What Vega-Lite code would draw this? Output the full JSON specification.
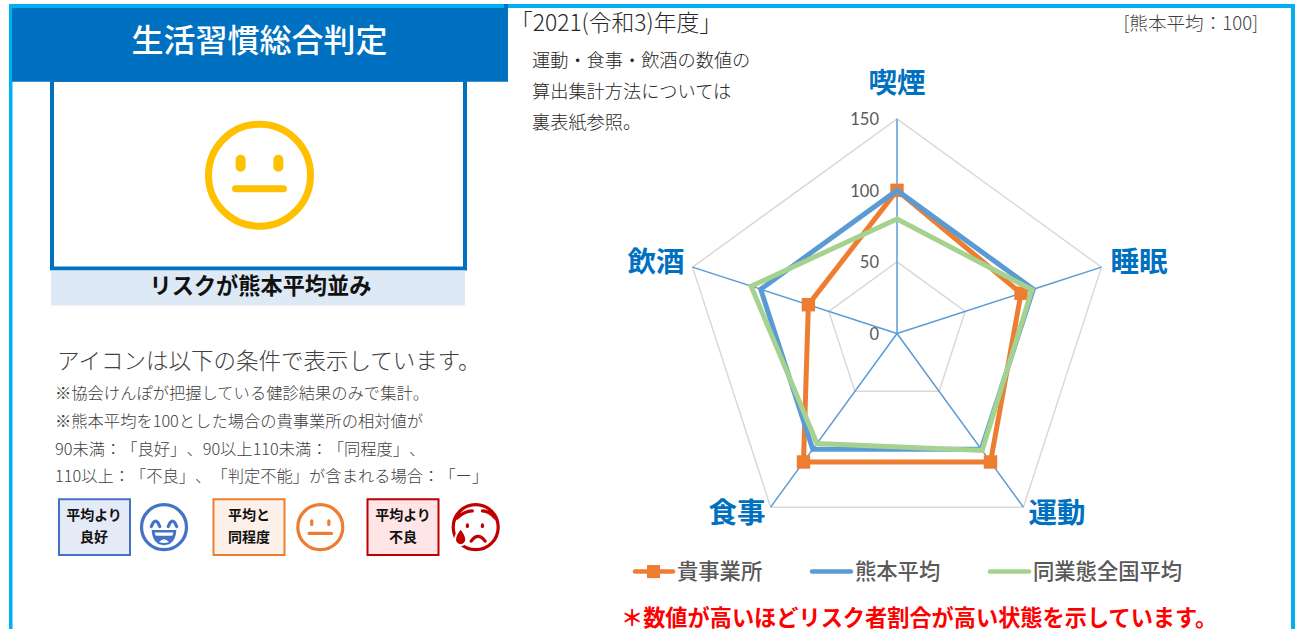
{
"$schema":"https://vega.github.io/schema/vega-lite/v6.json",
"autosize":{"type":"fit","contains":"padding"},
"width":1295,"height":630,"padding":0,"background":"#ffffff",
"config":{"view":{"stroke":null},"axis":{"disable":true},"text":{"font":"Noto Sans CJK JP","baseline":"middle"}},
"datasets":{
"scores":[
{"series":"貴事業所","axis":"喫煙","value":100},{"series":"貴事業所","axis":"睡眠","value":91},{"series":"貴事業所","axis":"運動","value":111},{"series":"貴事業所","axis":"食事","value":111},{"series":"貴事業所","axis":"飲酒","value":65},
{"series":"熊本平均","axis":"喫煙","value":100},{"series":"熊本平均","axis":"睡眠","value":100},{"series":"熊本平均","axis":"運動","value":100},{"series":"熊本平均","axis":"食事","value":100},{"series":"熊本平均","axis":"飲酒","value":100},
{"series":"同業態全国平均","axis":"喫煙","value":80},{"series":"同業態全国平均","axis":"睡眠","value":99},{"series":"同業態全国平均","axis":"運動","value":101},{"series":"同業態全国平均","axis":"食事","value":95},{"series":"同業態全国平均","axis":"飲酒","value":107}
],
"grid":[
{"axis":"喫煙","value":0},{"axis":"睡眠","value":0},{"axis":"運動","value":0},{"axis":"食事","value":0},{"axis":"飲酒","value":0},
{"axis":"喫煙","value":50},{"axis":"睡眠","value":50},{"axis":"運動","value":50},{"axis":"食事","value":50},{"axis":"飲酒","value":50},
{"axis":"喫煙","value":100},{"axis":"睡眠","value":100},{"axis":"運動","value":100},{"axis":"食事","value":100},{"axis":"飲酒","value":100},
{"axis":"喫煙","value":150},{"axis":"睡眠","value":150},{"axis":"運動","value":150},{"axis":"食事","value":150},{"axis":"飲酒","value":150}
],
"one":[{"id":1}]
},
"data":{"name":"scores"},
"transform":[
{"calculate":"indexof(['喫煙','睡眠','運動','食事','飲酒'],datum.axis)","as":"idx"},
{"calculate":"897+datum.value*215/150*sin(datum.idx*2*PI/5)","as":"px"},
{"calculate":"334-datum.value*215/150*cos(datum.idx*2*PI/5)","as":"py"}
],
"layer":[
{"data":{"name":"one"},"transform":[],"mark":{"type":"rect","fill":"#00B0F0"},"encoding":{"x":{"datum":9,"scale":{"domain":[0,1295],"nice":false,"zero":false}},"x2":{"datum":1295},"y":{"datum":4,"scale":{"domain":[630,0],"nice":false,"zero":false}},"y2":{"datum":8}}},
{"data":{"name":"one"},"transform":[],"mark":{"type":"rect","fill":"#00B0F0"},"encoding":{"x":{"datum":9},"x2":{"datum":12.5},"y":{"datum":4},"y2":{"datum":630}}},
{"data":{"name":"one"},"transform":[],"mark":{"type":"rect","fill":"#00B0F0"},"encoding":{"x":{"datum":1291},"x2":{"datum":1295},"y":{"datum":4},"y2":{"datum":630}}},
{"data":{"name":"one"},"transform":[],"mark":{"type":"rect","fill":"#ffffff","stroke":"#0070C0","strokeWidth":4},"encoding":{"x":{"datum":52},"x2":{"datum":465},"y":{"datum":80},"y2":{"datum":269}}},
{"data":{"name":"one"},"transform":[],"mark":{"type":"rect","fill":"#0070C0"},"encoding":{"x":{"datum":12},"x2":{"datum":508},"y":{"datum":8},"y2":{"datum":82}}},
{"data":{"name":"one"},"transform":[],"mark":{"type":"rect","fill":"#0070C0"},"encoding":{"x":{"datum":504},"x2":{"datum":508},"y":{"datum":4},"y2":{"datum":8}}},
{"data":{"name":"one"},"transform":[],"mark":{"type":"rect","fill":"#DDE9F5"},"encoding":{"x":{"datum":51},"x2":{"datum":465},"y":{"datum":271},"y2":{"datum":306}}},
{"data":{"values":[{"label":"生活習慣総合判定"}]},"transform":[],"mark":{"type":"text","align":"center","fontSize":32,"fontWeight":500,"fill":"#ffffff"},"encoding":{"x":{"datum":259.5},"y":{"datum":42},"text":{"field":"label"}}},
{"data":{"values":[{"label":"リスクが熊本平均並み"}]},"transform":[],"mark":{"type":"text","align":"center","fontSize":22.2,"fontWeight":700,"fill":"#111111"},"encoding":{"x":{"datum":260.5},"y":{"datum":287},"text":{"field":"label"}}},
{"data":{"name":"one"},"transform":[],"mark":{"type":"point","filled":false,"stroke":"#FFC000","strokeWidth":7,"strokeCap":"round","opacity":1,"size":10404,"shape":"M-1,0A1,1 0 1,1 1,0A1,1 0 1,1 -1,0ZM-0.47,0.265L0.47,0.265"},"encoding":{"x":{"datum":259.5},"y":{"datum":175.5}}},
{"data":{"name":"one"},"transform":[],"mark":{"type":"point","filled":false,"stroke":"#FFC000","strokeWidth":10,"strokeCap":"round","opacity":1,"size":10404,"shape":"M-0.37,-0.304L-0.37,-0.167M0.37,-0.304L0.37,-0.167"},"encoding":{"x":{"datum":259.5},"y":{"datum":175.5}}},
{"data":{"values":[{"label":"アイコンは以下の条件で表示しています。"}]},"transform":[],"mark":{"type":"text","align":"left","fontSize":22.5,"fontWeight":300,"fill":"#404040"},"encoding":{"x":{"datum":57},"y":{"datum":363},"text":{"field":"label"}}},
{"data":{"values":[{"label":"※協会けんぽが把握している健診結果のみで集計。"}]},"transform":[],"mark":{"type":"text","align":"left","fontSize":16.3,"fontWeight":300,"fill":"#404040"},"encoding":{"x":{"datum":55},"y":{"datum":395},"text":{"field":"label"}}},
{"data":{"values":[{"label":"※熊本平均を100とした場合の貴事業所の相対値が"}]},"transform":[],"mark":{"type":"text","align":"left","fontSize":16.3,"fontWeight":300,"fill":"#404040"},"encoding":{"x":{"datum":55},"y":{"datum":423},"text":{"field":"label"}}},
{"data":{"values":[{"label":"90未満：\u200b「良好」\u200b、90以上110未満：\u200b「同程度」\u200b、"}]},"transform":[],"mark":{"type":"text","align":"left","fontSize":16.3,"fontWeight":300,"fill":"#404040"},"encoding":{"x":{"datum":55},"y":{"datum":451},"text":{"field":"label"}}},
{"data":{"values":[{"label":"110以上：\u200b「不良」\u200b、\u200b「判定不能」\u200bが含まれる場合：\u200b「ー」"}]},"transform":[],"mark":{"type":"text","align":"left","fontSize":16.3,"fontWeight":300,"fill":"#404040"},"encoding":{"x":{"datum":55},"y":{"datum":478},"text":{"field":"label"}}},
{"data":{"name":"one"},"transform":[],"mark":{"type":"rect","fill":"#E4EAF6","stroke":"#4472C4","strokeWidth":2},"encoding":{"x":{"datum":59},"x2":{"datum":130},"y":{"datum":500},"y2":{"datum":556}}},
{"data":{"name":"one"},"transform":[],"mark":{"type":"rect","fill":"#FDF0E8","stroke":"#ED7D31","strokeWidth":2},"encoding":{"x":{"datum":213.5},"x2":{"datum":284.5},"y":{"datum":500},"y2":{"datum":556}}},
{"data":{"name":"one"},"transform":[],"mark":{"type":"rect","fill":"#FFE5E5","stroke":"#C00000","strokeWidth":2},"encoding":{"x":{"datum":367.5},"x2":{"datum":438.5},"y":{"datum":500},"y2":{"datum":556}}},
{"data":{"values":[{"label":"平均より"}]},"transform":[],"mark":{"type":"text","align":"center","fontSize":14,"fontWeight":700,"fill":"#111111"},"encoding":{"x":{"datum":94},"y":{"datum":517},"text":{"field":"label"}}},
{"data":{"values":[{"label":"良好"}]},"transform":[],"mark":{"type":"text","align":"center","fontSize":14,"fontWeight":700,"fill":"#111111"},"encoding":{"x":{"datum":94},"y":{"datum":539},"text":{"field":"label"}}},
{"data":{"values":[{"label":"平均と"}]},"transform":[],"mark":{"type":"text","align":"center","fontSize":14,"fontWeight":700,"fill":"#111111"},"encoding":{"x":{"datum":249},"y":{"datum":517},"text":{"field":"label"}}},
{"data":{"values":[{"label":"同程度"}]},"transform":[],"mark":{"type":"text","align":"center","fontSize":14,"fontWeight":700,"fill":"#111111"},"encoding":{"x":{"datum":249},"y":{"datum":539},"text":{"field":"label"}}},
{"data":{"values":[{"label":"平均より"}]},"transform":[],"mark":{"type":"text","align":"center","fontSize":14,"fontWeight":700,"fill":"#111111"},"encoding":{"x":{"datum":403},"y":{"datum":517},"text":{"field":"label"}}},
{"data":{"values":[{"label":"不良"}]},"transform":[],"mark":{"type":"text","align":"center","fontSize":14,"fontWeight":700,"fill":"#111111"},"encoding":{"x":{"datum":403},"y":{"datum":539},"text":{"field":"label"}}},
{"data":{"name":"one"},"transform":[],"mark":{"type":"point","filled":false,"stroke":"#4472C4","strokeWidth":3.2,"strokeCap":"round","opacity":1,"size":2025,"shape":"M-1,0A1,1 0 1,1 1,0A1,1 0 1,1 -1,0ZM-0.56,-0.03Q-0.375,-0.5 -0.19,-0.03M0.19,-0.03Q0.375,-0.5 0.56,-0.03"},"encoding":{"x":{"datum":164},"y":{"datum":528}}},
{"data":{"name":"one"},"transform":[],"mark":{"type":"point","filled":true,"fill":"#4472C4","strokeWidth":0,"opacity":1,"size":2025,"shape":"M-0.55,0.13L0.55,0.13Q0.5,0.8 0,0.8Q-0.5,0.8 -0.55,0.13Z"},"encoding":{"x":{"datum":164},"y":{"datum":528}}},
{"data":{"name":"one"},"transform":[],"mark":{"type":"point","filled":true,"fill":"#ffffff","strokeWidth":0,"opacity":1,"size":2025,"shape":"M-0.42,0.24L0.42,0.24L0.37,0.38L-0.37,0.38ZM-0.22,0.66Q0,0.42 0.22,0.66Q0,0.74 -0.22,0.66Z"},"encoding":{"x":{"datum":164},"y":{"datum":528}}},
{"data":{"name":"one"},"transform":[],"mark":{"type":"point","filled":false,"stroke":"#ED7D31","strokeWidth":3.2,"strokeCap":"round","opacity":1,"size":2025,"shape":"M-1,0A1,1 0 1,1 1,0A1,1 0 1,1 -1,0ZM-0.5,0.28L0.5,0.28M-0.38,-0.28L-0.38,-0.12M0.38,-0.28L0.38,-0.12"},"encoding":{"x":{"datum":320.3},"y":{"datum":528}}},
{"data":{"name":"one"},"transform":[],"mark":{"type":"point","filled":false,"stroke":"#C00000","strokeWidth":3.2,"strokeCap":"round","opacity":1,"size":2025,"shape":"M-1,0A1,1 0 1,1 1,0A1,1 0 1,1 -1,0ZM-0.83,-0.4Q-0.5,-0.72 -0.15,-0.72M0.87,-0.4Q0.6,-0.72 0.3,-0.72M-0.2,0.62Q0.1,0.2 0.42,0.62M-0.37,-0.1L-0.37,-0.03M0.3,-0.1L0.3,-0.03"},"encoding":{"x":{"datum":475.7},"y":{"datum":528}}},
{"data":{"name":"one"},"transform":[],"mark":{"type":"point","filled":true,"fill":"#C00000","stroke":"#ffffff","strokeWidth":2,"opacity":1,"size":2025,"shape":"M-0.67,0.04C-0.67,0.04 -0.92,0.35 -0.92,0.55A0.25,0.25 0 0 0 -0.42,0.55C-0.42,0.35 -0.67,0.04 -0.67,0.04Z"},"encoding":{"x":{"datum":475.7},"y":{"datum":528}}},
{"data":{"values":[{"label":"「2021(令和3)年度」"}]},"transform":[],"mark":{"type":"text","align":"left","fontSize":22.8,"fontWeight":300,"fill":"#262626"},"encoding":{"x":{"datum":510},"y":{"datum":24},"text":{"field":"label"}}},
{"data":{"values":[{"label":"[熊本平均：100]"}]},"transform":[],"mark":{"type":"text","align":"right","fontSize":18.6,"fontWeight":300,"fill":"#404040"},"encoding":{"x":{"datum":1258},"y":{"datum":24},"text":{"field":"label"}}},
{"data":{"values":[{"label":"運動・食事・飲酒の数値の"}]},"transform":[],"mark":{"type":"text","align":"left","fontSize":18.2,"fontWeight":300,"fill":"#262626"},"encoding":{"x":{"datum":532},"y":{"datum":62},"text":{"field":"label"}}},
{"data":{"values":[{"label":"算出集計方法については"}]},"transform":[],"mark":{"type":"text","align":"left","fontSize":18.2,"fontWeight":300,"fill":"#262626"},"encoding":{"x":{"datum":532},"y":{"datum":93},"text":{"field":"label"}}},
{"data":{"values":[{"label":"裏表紙参照。"}]},"transform":[],"mark":{"type":"text","align":"left","fontSize":18.2,"fontWeight":300,"fill":"#262626"},"encoding":{"x":{"datum":532},"y":{"datum":124},"text":{"field":"label"}}},
{"data":{"name":"grid"},"transform":[{"filter":"datum.value>0"},{"calculate":"indexof(['喫煙','睡眠','運動','食事','飲酒'],datum.axis)","as":"idx"},{"calculate":"897+datum.value*215/150*sin(datum.idx*2*PI/5)","as":"px"},{"calculate":"334-datum.value*215/150*cos(datum.idx*2*PI/5)","as":"py"}],"mark":{"type":"line","interpolate":"linear-closed","stroke":"#D9D9D9","strokeWidth":1.5},"encoding":{"x":{"field":"px","type":"quantitative"},"y":{"field":"py","type":"quantitative"},"detail":{"field":"value"},"order":{"field":"idx"}}},
{"data":{"name":"grid"},"transform":[{"filter":"datum.value==0||datum.value==150"},{"calculate":"indexof(['喫煙','睡眠','運動','食事','飲酒'],datum.axis)","as":"idx"},{"calculate":"897+datum.value*215/150*sin(datum.idx*2*PI/5)","as":"px"},{"calculate":"334-datum.value*215/150*cos(datum.idx*2*PI/5)","as":"py"}],"mark":{"type":"line","stroke":"#5B9BD5","strokeWidth":1.5},"encoding":{"x":{"field":"px","type":"quantitative"},"y":{"field":"py","type":"quantitative"},"detail":{"field":"axis"},"order":{"field":"value"}}},
{"data":{"name":"grid"},"transform":[{"filter":"datum.axis=='喫煙'"},{"calculate":"335.5-datum.value*215/150","as":"py"}],"mark":{"type":"text","align":"right","font":"Lato","fontSize":16.5,"fill":"#595959"},"encoding":{"x":{"datum":879},"y":{"field":"py","type":"quantitative"},"text":{"field":"value"}}},
{"transform":[{"filter":"datum.series=='貴事業所'"},{"calculate":"indexof(['喫煙','睡眠','運動','食事','飲酒'],datum.axis)","as":"idx"},{"calculate":"897+datum.value*215/150*sin(datum.idx*2*PI/5)","as":"px"},{"calculate":"334-datum.value*215/150*cos(datum.idx*2*PI/5)","as":"py"}],"mark":{"type":"line","interpolate":"linear-closed","stroke":"#ED7D31","strokeWidth":5},"encoding":{"x":{"field":"px","type":"quantitative"},"y":{"field":"py","type":"quantitative"},"order":{"field":"idx"}}},
{"transform":[{"filter":"datum.series=='貴事業所'"},{"calculate":"indexof(['喫煙','睡眠','運動','食事','飲酒'],datum.axis)","as":"idx"},{"calculate":"897+datum.value*215/150*sin(datum.idx*2*PI/5)","as":"px"},{"calculate":"334-datum.value*215/150*cos(datum.idx*2*PI/5)","as":"py"}],"mark":{"type":"point","shape":"square","filled":true,"fill":"#ED7D31","opacity":1,"size":180},"encoding":{"x":{"field":"px","type":"quantitative"},"y":{"field":"py","type":"quantitative"}}},
{"transform":[{"filter":"datum.series=='熊本平均'"},{"calculate":"indexof(['喫煙','睡眠','運動','食事','飲酒'],datum.axis)","as":"idx"},{"calculate":"897+datum.value*215/150*sin(datum.idx*2*PI/5)","as":"px"},{"calculate":"334-datum.value*215/150*cos(datum.idx*2*PI/5)","as":"py"}],"mark":{"type":"line","interpolate":"linear-closed","stroke":"#5B9BD5","strokeWidth":5},"encoding":{"x":{"field":"px","type":"quantitative"},"y":{"field":"py","type":"quantitative"},"order":{"field":"idx"}}},
{"transform":[{"filter":"datum.series=='同業態全国平均'"},{"calculate":"indexof(['喫煙','睡眠','運動','食事','飲酒'],datum.axis)","as":"idx"},{"calculate":"897+datum.value*215/150*sin(datum.idx*2*PI/5)","as":"px"},{"calculate":"334-datum.value*215/150*cos(datum.idx*2*PI/5)","as":"py"}],"mark":{"type":"line","interpolate":"linear-closed","stroke":"#A5D28F","strokeWidth":5},"encoding":{"x":{"field":"px","type":"quantitative"},"y":{"field":"py","type":"quantitative"},"order":{"field":"idx"}}},
{"data":{"values":[{"label":"喫煙"}]},"transform":[],"mark":{"type":"text","align":"center","fontSize":28.5,"fontWeight":700,"fill":"#0070C0"},"encoding":{"x":{"datum":897},"y":{"datum":84},"text":{"field":"label"}}},
{"data":{"values":[{"label":"睡眠"}]},"transform":[],"mark":{"type":"text","align":"center","fontSize":28.5,"fontWeight":700,"fill":"#0070C0"},"encoding":{"x":{"datum":1139},"y":{"datum":263},"text":{"field":"label"}}},
{"data":{"values":[{"label":"運動"}]},"transform":[],"mark":{"type":"text","align":"center","fontSize":28.5,"fontWeight":700,"fill":"#0070C0"},"encoding":{"x":{"datum":1057},"y":{"datum":515},"text":{"field":"label"}}},
{"data":{"values":[{"label":"食事"}]},"transform":[],"mark":{"type":"text","align":"center","fontSize":28.5,"fontWeight":700,"fill":"#0070C0"},"encoding":{"x":{"datum":737},"y":{"datum":515},"text":{"field":"label"}}},
{"data":{"values":[{"label":"飲酒"}]},"transform":[],"mark":{"type":"text","align":"center","fontSize":28.5,"fontWeight":700,"fill":"#0070C0"},"encoding":{"x":{"datum":656},"y":{"datum":263},"text":{"field":"label"}}},
{"data":{"name":"one"},"transform":[],"mark":{"type":"rule","stroke":"#ED7D31","strokeWidth":4.5,"strokeCap":"round"},"encoding":{"x":{"datum":635},"x2":{"datum":673},"y":{"datum":572.5}}},
{"data":{"name":"one"},"transform":[],"mark":{"type":"point","shape":"square","filled":true,"fill":"#ED7D31","opacity":1,"size":170},"encoding":{"x":{"datum":653.5},"y":{"datum":572.5}}},
{"data":{"name":"one"},"transform":[],"mark":{"type":"rule","stroke":"#5B9BD5","strokeWidth":4.5,"strokeCap":"round"},"encoding":{"x":{"datum":812},"x2":{"datum":851},"y":{"datum":572.5}}},
{"data":{"name":"one"},"transform":[],"mark":{"type":"rule","stroke":"#A5D28F","strokeWidth":4.5,"strokeCap":"round"},"encoding":{"x":{"datum":990},"x2":{"datum":1029},"y":{"datum":572.5}}},
{"data":{"values":[{"label":"貴事業所"}]},"transform":[],"mark":{"type":"text","align":"left","fontSize":21.3,"fontWeight":500,"fill":"#595959"},"encoding":{"x":{"datum":677},"y":{"datum":574},"text":{"field":"label"}}},
{"data":{"values":[{"label":"熊本平均"}]},"transform":[],"mark":{"type":"text","align":"left","fontSize":21.3,"fontWeight":500,"fill":"#595959"},"encoding":{"x":{"datum":855},"y":{"datum":574},"text":{"field":"label"}}},
{"data":{"values":[{"label":"同業態全国平均"}]},"transform":[],"mark":{"type":"text","align":"left","fontSize":21.3,"fontWeight":500,"fill":"#595959"},"encoding":{"x":{"datum":1033},"y":{"datum":574},"text":{"field":"label"}}},
{"data":{"values":[{"label":"＊数値が高いほどリスク者割合が高い状態を示しています。"}]},"transform":[],"mark":{"type":"text","align":"left","fontSize":22.2,"fontWeight":700,"fill":"#FF0000"},"encoding":{"x":{"datum":621},"y":{"datum":619.5},"text":{"field":"label"}}}
]
}
